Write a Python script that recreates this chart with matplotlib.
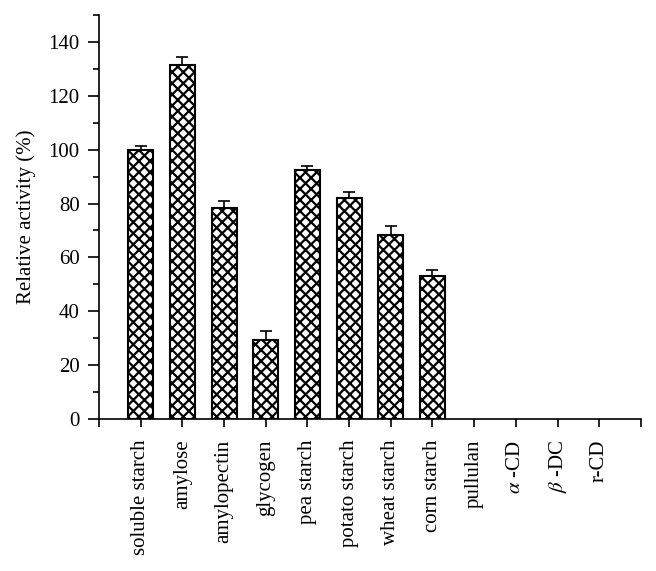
import matplotlib
matplotlib.use("Agg")
import matplotlib.pyplot as plt
import numpy as np

categories = ["soluble starch", "amylose", "amylopectin", "glycogen", "pea starch",
              "potato starch", "wheat starch", "corn starch", "pullulan",
              r"$\alpha$ -CD", r"$\beta$ -DC", "r-CD"]
values = [100, 131.5, 78.5, 29.5, 92.5, 82, 68.5, 53, 0, 0, 0, 0]
errors = [1.3, 3.0, 2.4, 3.0, 1.5, 2.4, 3.0, 2.4, 0, 0, 0, 0]
yticks = [0, 20, 40, 60, 80, 100, 120, 140]

plt.rcParams['font.family'] = ['Liberation Serif', 'DejaVu Serif']
plt.rcParams['mathtext.fontset'] = 'stix'
plt.rcParams['hatch.linewidth'] = 1.6

fig = plt.figure(figsize=(6.56, 5.71), dpi=100)
ax = fig.add_axes([0.1509, 0.2662, 0.977 - 0.1509, 0.9737 - 0.2662])

x = np.arange(1, len(categories) + 1)
nz = [i for i, v in enumerate(values) if v > 0]
ax.bar(x[nz], [values[i] for i in nz], width=0.6, color='white', edgecolor='black',
       hatch='xxx', linewidth=1.5, zorder=2)
ax.errorbar(x[nz], [values[i] for i in nz],
            yerr=[[0] * len(nz), [errors[i] for i in nz]],
            fmt='none', ecolor='black', elinewidth=1.2, capsize=4, capthick=1.2, zorder=3)

ax.set_xlim(0, 13)
ax.set_ylim(0, 150)
ax.set_xticks(np.arange(0, 14))
ax.set_xticklabels([""] + categories + [""], rotation=90, fontsize=15)
ax.set_yticks(yticks)
ax.set_yticklabels([str(t) for t in yticks], fontsize=15)
ax.set_yticks(np.arange(10, 151, 20), minor=True)
ax.tick_params(axis='y', which='major', direction='out', length=8, width=1.2, pad=6)
ax.tick_params(axis='y', which='minor', direction='out', length=4, width=1.2)
ax.tick_params(axis='x', which='major', direction='out', length=6, width=1.2, pad=9)
for s in ['top', 'right']:
    ax.spines[s].set_visible(False)
for s in ['left', 'bottom']:
    ax.spines[s].set_linewidth(1.2)

ax.set_ylabel("Relative activity (%)", fontsize=15, labelpad=9)

fig.savefig("out.png", dpi=100)
